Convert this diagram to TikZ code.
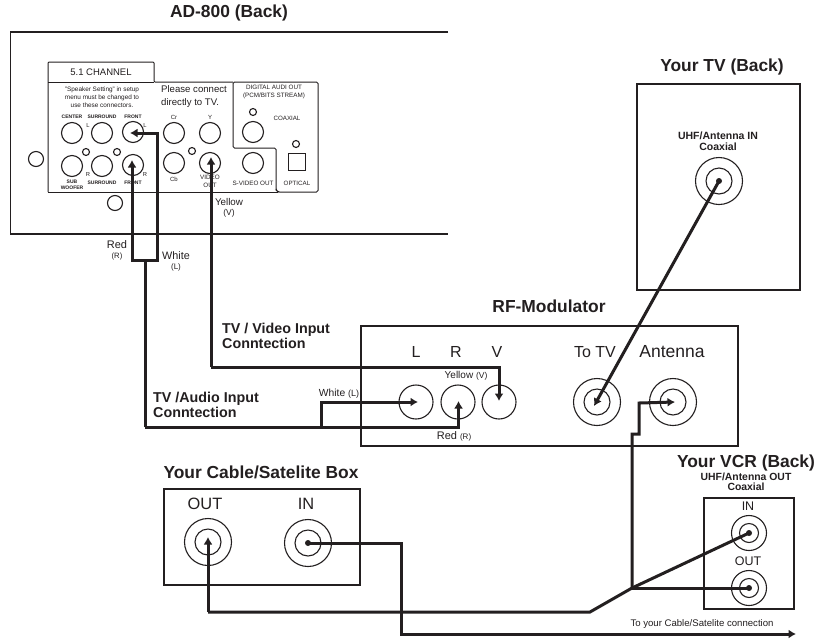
\documentclass[tikz,border=0pt]{standalone}
\usepackage{fontspec}
\setmainfont{Liberation Sans}
\usetikzlibrary{arrows.meta}
\definecolor{ink}{HTML}{231F20}
\tikzset{
 x=1pt,y=-1pt,
 panel/.style={draw=ink,line width=1.3pt},
 thinpanel/.style={draw=ink,line width=1pt},
 jack/.style={circle,draw=ink,line width=1.1pt,minimum size=#1,inner sep=0pt,outer sep=0pt},
 dot/.style={fill=ink,circle,minimum size=6pt,inner sep=0pt},
 cable/.style={draw=ink,line width=3pt,miter limit=10},
 tipped/.style={cable,-{Latex[length=7.5pt,width=9pt]}},
 title/.style={font=\bfseries\fontsize{17.4}{18}\selectfont,inner sep=0pt,text=ink},
 lab/.style={font=\fontsize{#1}{#1}\selectfont,inner sep=0pt,text=ink,align=center},
 blab/.style={font=\bfseries\fontsize{#1}{#1}\selectfont,inner sep=0pt,text=ink,align=center},
}
\begin{document}
\begin{tikzpicture}
\useasboundingbox (0,0) rectangle (826,638);
\fill[white] (0,0) rectangle (826,638);
% AD-800
\draw[panel] (448,32) -- (10.5,32) -- (10.5,234) -- (448,234);
\node[title] (adt) at (229,13) {AD-800 (Back)};
\draw[thinpanel,rounded corners=1pt] (48,192) -- (48,62) -- (154,62) -- (154,82) -- (233,82);
\draw[thinpanel] (48,82) -- (154,82);
\draw[thinpanel,rounded corners=1.5pt] (233,148) -- (233,82) -- (318,82) -- (318,192) -- (278,192) -- (276,190) -- (276,148) -- cycle;
\draw[thinpanel] (48,192) -- (278,192);
\node[lab=9.5] (ch) at (101,72) {5.1 CHANNEL};
\node[lab=6.4] (spk) at (102,97) {"Speaker Setting" in setup\\[1.6pt]menu must be changed to\\[1.6pt]use these connectors.};
\node[lab=9.6,align=left,anchor=north west] (pc) at (161,85) {Please connect\\[3.4pt]directly to TV.};
\node[lab=6.3] (dig) at (274,92) {DIGITAL AUDI OUT\\[2pt](PCM/BITS STREAM)};
\node[lab=6.2] (cx) at (287,118) {COAXIAL};
\node[lab=6.2] (opt) at (297,183) {OPTICAL};
\node[lab=6.3] (sv) at (253,183) {S-VIDEO OUT};
\node[lab=6.3] (vo) at (210,181) {VIDEO\\[1.4pt]OUT};
\node[blab=5] (t1) at (72,117) {CENTER};
\node[blab=5] (t2) at (102,117) {SURROUND};
\node[blab=5] (t3) at (133,117) {FRONT};
\node[blab=5] (t4) at (72,185) {SUB\\[.8pt]WOOFER};
\node[blab=5] (t5) at (102,183) {SURROUND};
\node[blab=5] (t6) at (133,183) {FRONT};
\node[lab=5.8] (t7) at (88,125) {L};
\node[lab=5.8] (t8) at (145,125) {L};
\node[lab=5.8] (t9) at (88,174) {R};
\node[lab=5.8] (t10) at (145,174) {R};
\node[lab=6] (t11) at (174,117) {Cr};
\node[lab=6] (t12) at (210,117) {Y};
\node[lab=6] (t13) at (174,179) {Cb};
\foreach \n/\px/\py in {j1/72/133,j2/102/133,fl/133/132,j4/72/166,j5/102/166,fr/133/165,cr/174/133,y/210/133,cb/174/163,vid/210/163,cox/253/132,svj/253/163}
 \node[jack=21pt] (\n) at (\px,\py) {};
\foreach \n/\px/\py/\sz in {s1/86/152/7,s2/117/152/7,s3/192/151/7,s4/253/112/7,s5/296/144/7,h1/36/159/15,h2/115/203/15}
 \node[jack=\sz pt] (\n) at (\px,\py) {};
\node[draw=ink,line width=1.1pt,minimum size=17pt,inner sep=0pt] (optj) at (297,162) {};
\node[lab=9.8] (yel) at (229,202) {Yellow};
\node[lab=8.5] (yelv) at (229,213) {(V)};
\node[lab=11] (red) at (117,245) {Red};
\node[lab=7.7] (redr) at (117,256) {(R)};
\node[lab=10.8] (wh) at (176,256) {White};
\node[lab=8] (whl) at (176,267) {(L)};
% TV
\node[title] (tvt) at (722,67) {Your TV (Back)};
\draw[panel] (637,84) rectangle (800,290);
\node[blab=10.5] (tvl) at (718,141) {UHF/Antenna IN\\Coaxial};
\node[jack=47pt] (tva) at (719,181) {};
\node[jack=26pt] (tvb) at (719,181) {};
\node[dot] (tvc) at (719,181) {};
% RF
\node[title] (rft) at (549,306) {RF-Modulator};
\draw[panel] (361,326) rectangle (738,446);
\node[lab=16] (rl) at (416,352) {L};
\node[lab=16] (rr) at (456,352) {R};
\node[lab=16] (rv) at (497,352) {V};
\node[lab=16] (rt) at (595,352) {To TV};
\node[lab=17.5] (ra) at (672,352) {Antenna};
\node[lab=10] (ry) at (466,376) {Yellow {\fontsize{8.5}{8.5}\selectfont(V)}};
\node[lab=11] (rd) at (454,436) {Red {\fontsize{8}{8}\selectfont(R)}};
\node[lab=10.3] (rw) at (339,394) {White {\fontsize{9}{9}\selectfont(L)}};
\node[jack=34pt] (ljk) at (416,402) {};
\node[jack=34pt] (rjk) at (458,402) {};
\node[jack=34pt] (vjk) at (499,402) {};
\node[jack=47pt] (tta) at (597,402) {};
\node[jack=26pt] (ttb) at (597,402) {};
\node[jack=47pt] (ana) at (673,402) {};
\node[jack=26pt] (anb) at (673,402) {};
% Labels
\node[blab=14.3,align=left,anchor=west] (vil) at (222,336) {TV / Video Input\\[.7pt]Conntection};
\node[blab=14.3,align=left,anchor=west] (ail) at (153,405) {TV /Audio Input\\[.7pt]Conntection};
% Cable box
\node[title] (cbt) at (261,472) {Your Cable/Satelite Box};
\draw[panel] (164,489) rectangle (360,585);
\node[lab=16.4] (bo) at (205,504) {OUT};
\node[lab=16.4] (bi) at (306,504) {IN};
\node[jack=47pt] (oa) at (208,542) {};
\node[jack=26pt] (ob) at (208,542) {};
\node[jack=47pt] (ia) at (308,543) {};
\node[jack=26pt] (ib) at (308,543) {};
\node[dot] (ic) at (308,543) {};
% VCR
\node[title] (vt) at (746,463) {Your VCR (Back)};
\node[blab=10.4] (vl) at (746,481.5) {UHF/Antenna OUT\\Coaxial};
\draw[panel] (704,498) rectangle (794,609);
\node[lab=12.5] (vi) at (748,506) {IN};
\node[lab=12.5] (vo2) at (748,561) {OUT};
\node[jack=35pt] (via) at (749,533) {};
\node[jack=19pt] (vib) at (749,533) {};
\node[jack=35pt] (voa) at (749,588) {};
\node[jack=19pt] (vob) at (749,588) {};
\node[dot] (vic) at (749,533) {};
\node[dot] (voc) at (749,588) {};
\node[lab=9.6] (toc) at (702,624) {To your Cable/Satelite connection};
% Cables
\coordinate (jn) at (632,588);
\coordinate (flt) at (130,133);
\coordinate (frt) at (132,160);
\coordinate (vt1) at (211,157);
\coordinate (ltip) at (418,402);
\coordinate (rtip) at (458.5,401);
\coordinate (vtip) at (499,401);
\coordinate (ttip) at (594,406);
\coordinate (atip) at (675,402);
\coordinate (otip) at (208,537);
\coordinate (cend) at (796,634);
\draw[tipped] (145,427) -- (145,260) -- (157,260) -- (157,133) -- (flt);
\draw[tipped] (145,260) -- (132,260) -- (frt);
\draw[tipped] (145,427) -- (321,427) -- (321,402) -- (ltip);
\draw[tipped] (321,427) -- (458.5,427) -- (rtip);
\draw[tipped] (211,367) -- (211,234) -- (vt1);
\draw[tipped] (211,367) -- (499,367) -- (vtip);
\draw[tipped] (tvc.center) -- (ttip);
\draw[tipped] (jn) -- (632,434) -- (639,434) -- (639,403) -- (atip);
\draw[cable] (jn) -- (voc.center);
\draw[cable] (vic.center) -- (jn) -- (590,612) -- (208,612);
\draw[tipped] (208,612) -- (otip);
\draw[tipped] (ic.center) -- (401,543) -- (401,634) -- (cend);
\end{tikzpicture}
\end{document}
